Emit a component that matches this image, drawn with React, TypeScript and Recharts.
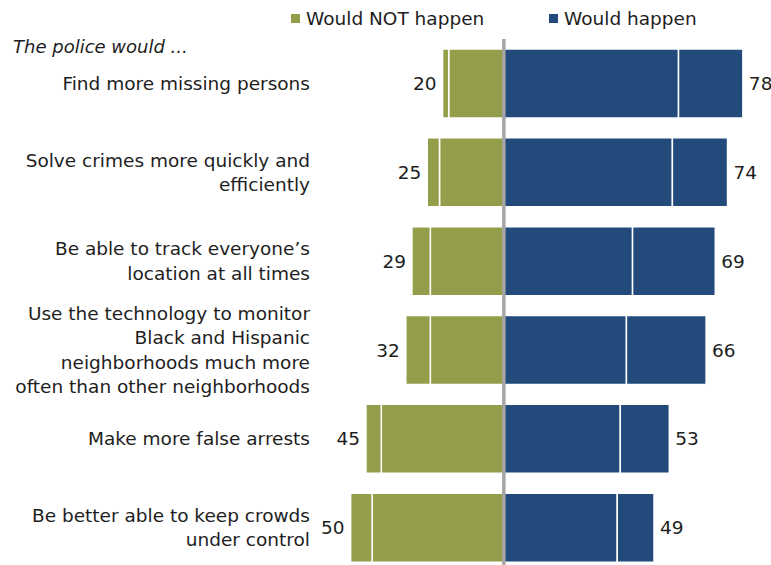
import React from "react";
import {
  Bar,
  XAxis,
  YAxis,
  Legend,
  BarChart,
  LabelList,
  ReferenceLine,
} from "recharts";

// survey items, line breaks as in the original
const categories = [
  "Find more missing persons",
  "Solve crimes more quickly and\nefficiently",
  "Be able to track everyone\u2019s\nlocation at all times",
  "Use the technology to monitor\nBlack and Hispanic\nneighborhoods much more\noften than other neighborhoods",
  "Make more false arrests",
  "Be better able to keep crowds\nunder control",
];

// "would NOT happen" split (inner = next to the center line)
const notInner = [18, 21, 24, 24, 40, 43];
const notOuter = [2, 4, 6, 8, 5, 7];
const notTotal = [20, 25, 29, 32, 45, 50];

// "would happen" split
const happenInner = [57, 55, 42, 40, 38, 37];
const happenOuter = [21, 18, 27, 26, 16, 12];
const happenTotal = [78, 74, 69, 66, 53, 49];

const legendNames = ["Would NOT happen", "Would happen"];
const title = "The police would ...";

const GREEN = "#949d4a";
const BLUE = "#224a7b";
const TEXT = "#1e1e1e";
const FONT = "'DejaVu Sans', sans-serif";

const rows = categories.map((name, i) => ({
  name,
  notInner: -notInner[i],
  notOuter: -notOuter[i],
  happenInner: happenInner[i],
  happenOuter: happenOuter[i],
  notTotal: notTotal[i],
  happenTotal: happenTotal[i],
}));

const CategoryTick = (props: any) => {
  const { x, y, payload } = props;
  const lines = String(payload.value).split("\n");
  const lh = 24.5;
  const start = -((lines.length - 1) * lh) / 2;
  return (
    <text x={x} y={y} textAnchor="end" fill={TEXT} fontSize={18.5} fontFamily={FONT}>
      {lines.map((ln, i) => (
        <tspan key={i} x={x} dy={i === 0 ? start + 6.5 : lh}>
          {ln}
        </tspan>
      ))}
    </text>
  );
};

const leftLabel = (props: any) => {
  const x = Number(props.x);
  const w = Number(props.width);
  const y = Number(props.y) + Number(props.height) / 2;
  return (
    <text x={Math.min(x, x + w) - 6} y={y} dy={6.5} textAnchor="end" fill={TEXT} fontSize={18.5} fontFamily={FONT}>
      {props.value}
    </text>
  );
};

const rightLabel = (props: any) => {
  const x = Number(props.x);
  const w = Number(props.width);
  const y = Number(props.y) + Number(props.height) / 2;
  return (
    <text x={Math.max(x, x + w) + 6} y={y} dy={6.5} textAnchor="start" fill={TEXT} fontSize={18.5} fontFamily={FONT}>
      {props.value}
    </text>
  );
};

const legendX = [291, 549];

const renderLegend = (props: any) => {
  const items = (props.payload || []).filter((p: any) => p.type !== "none");
  return (
    <div style={{ position: "relative", height: 40 }}>
      {items.map((e: any, i: number) => (
        <div
          key={i}
          style={{
            position: "absolute",
            left: legendX[i],
            top: 8,
            display: "flex",
            alignItems: "center",
            fontFamily: FONT,
            fontSize: 18.5,
            color: TEXT,
            whiteSpace: "nowrap",
          }}
        >
          <span style={{ width: 9, height: 9, background: e.color, marginRight: 6, display: "inline-block" }} />
          <span>{e.value}</span>
        </div>
      ))}
    </div>
  );
};

const App = () => {
  return (
    <div
      style={{
        position: "absolute",
        left: 0,
        top: 0,
        width: 771,
        height: 565,
        overflow: "hidden",
        background: "#fff",
      }}
    >
      <div
        style={{
          position: "absolute",
          left: 13,
          top: 36,
          fontFamily: FONT,
          fontStyle: "italic",
          fontSize: 18,
          color: TEXT,
          zIndex: 2,
        }}
      >
        {title}
      </div>
      <BarChart
        width={771}
        height={575}
        data={rows}
        layout="vertical"
        stackOffset="sign"
        barSize={69}
        margin={{ top: 39, right: 22, bottom: 3, left: 0 }}
      >
        <XAxis type="number" domain={[-60, 80]} hide />
        <YAxis
          type="category"
          dataKey="name"
          width={320}
          axisLine={false}
          tickLine={false}
          tickSize={0}
          tickMargin={10}
          interval={0}
          tick={<CategoryTick />}
        />
        <Legend
          layout="horizontal"
          verticalAlign="middle"
          align="center"
          content={renderLegend}
          wrapperStyle={{ top: 0, left: 0, width: 771, height: 40 }}
        />
        <Bar dataKey="notInner" stackId="a" name={legendNames[0]} fill={GREEN} stroke="#fff" strokeWidth={1.5} isAnimationActive={false} />
        <Bar dataKey="notOuter" stackId="a" legendType="none" fill={GREEN} stroke="#fff" strokeWidth={1.5} isAnimationActive={false}>
          <LabelList dataKey="notTotal" content={leftLabel} />
        </Bar>
        <Bar dataKey="happenInner" stackId="a" name={legendNames[1]} fill={BLUE} stroke="#fff" strokeWidth={1.5} isAnimationActive={false} />
        <Bar dataKey="happenOuter" stackId="a" legendType="none" fill={BLUE} stroke="#fff" strokeWidth={1.5} isAnimationActive={false}>
          <LabelList dataKey="happenTotal" content={rightLabel} />
        </Bar>
        <ReferenceLine x={0} stroke="#a6a6a6" strokeWidth={3.5} ifOverflow="extendDomain" />
      </BarChart>
    </div>
  );
};

export default App;
